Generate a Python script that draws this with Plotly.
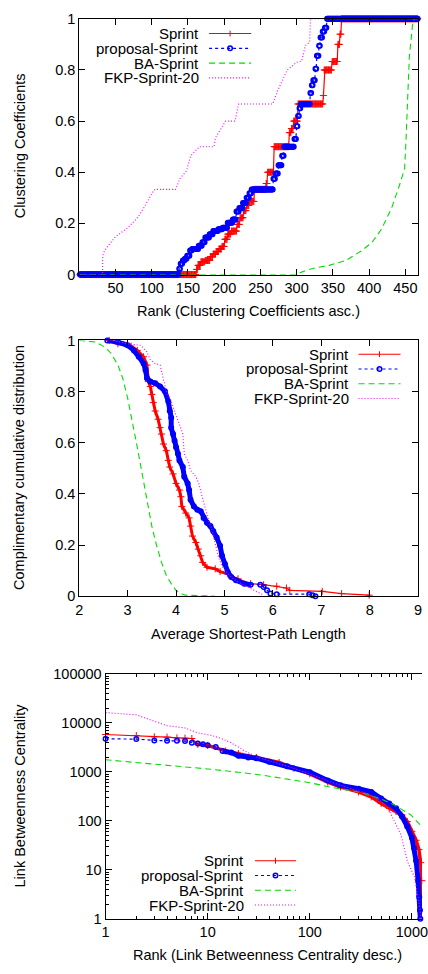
import numpy as np
import plotly.graph_objects as go

# ---------------- Panel 1: clustering coefficients (sorted asc., run-length encoded)
N_NODES = 467
cc_sprint_vals = [0.0, 0.02, 0.036, 0.05, 0.055, 0.07, 0.08, 0.09, 0.1, 0.11, 0.138, 0.158, 0.17, 0.196,
                  0.222, 0.25, 0.27, 0.286, 0.333, 0.356, 0.4, 0.5, 0.555, 0.571, 0.6, 0.667, 0.7, 0.8,
                  0.833, 0.9, 0.94, 1.0]
cc_sprint_counts = [161, 2, 4, 6, 7, 4, 4, 4, 4, 4, 4, 5, 8, 4, 5, 4, 4, 7, 16, 2, 9, 21, 3, 3, 6, 35, 1,
                    11, 8, 3, 2, 106]
cc_prop_vals = [0.0, 0.023, 0.042, 0.055, 0.062, 0.074, 0.094, 0.1, 0.113, 0.126, 0.145, 0.158, 0.17,
                0.177, 0.183, 0.203, 0.215, 0.247, 0.26, 0.28, 0.3, 0.318, 0.333, 0.375, 0.395, 0.427,
                0.465, 0.5, 0.53, 0.58, 0.62, 0.65, 0.667, 0.71, 0.74, 0.76, 0.805, 0.856, 0.895, 0.927,
                0.95, 0.965, 1.0]
cc_prop_counts = [137, 2, 3, 3, 3, 4, 3, 9, 5, 4, 6, 5, 7, 6, 7, 7, 5, 4, 5, 5, 4, 3, 30, 3, 4, 5, 3,
                  14, 3, 2, 2, 2, 13, 2, 2, 3, 2, 3, 2, 3, 3, 3, 126]
cc_ba_rank = [1, 298, 314, 327, 345, 368, 390, 404, 417, 431, 442, 449, 451, 453, 455.5, 460, 462, 467]
cc_ba_val = [0, 0, 0.017, 0.027, 0.036, 0.055, 0.094, 0.126, 0.177, 0.26, 0.35, 0.414, 0.53, 0.683,
             0.85, 0.978, 1.0, 1.0]
cc_fkp_rank = [1, 32, 32.5, 35, 49, 67, 80, 89, 103, 106, 133, 139, 148, 154, 166, 186, 188, 202, 215,
               220, 267, 274, 287, 300, 307, 312, 318, 319, 467]
cc_fkp_val = [0, 0, 0.074, 0.094, 0.145, 0.183, 0.22, 0.26, 0.33, 0.333, 0.333, 0.375, 0.405, 0.465,
              0.5, 0.5, 0.535, 0.6, 0.6, 0.667, 0.667, 0.72, 0.8, 0.83, 0.835, 0.895, 0.91, 1.0, 1.0]

# ---------------- Panel 2: CCDF of average shortest-path length
asp_sprint_x = [2.62, 2.80, 3.07, 3.20, 3.33, 3.40, 3.43, 3.47, 3.50, 3.53, 3.57, 3.63, 3.67, 3.70,
                3.74, 3.80, 3.84, 3.87, 3.94, 4.00, 4.07, 4.10, 4.12, 4.20, 4.27, 4.30, 4.34, 4.41,
                4.46, 4.51, 4.55, 4.64, 4.81, 4.91, 5.07, 5.28, 5.54, 5.81, 6.08, 6.28, 6.35, 7.02,
                7.42, 7.99]
asp_sprint_y = [1.0, 0.987, 0.978, 0.961, 0.936, 0.904, 0.839, 0.820, 0.789, 0.757, 0.724, 0.692,
                0.659, 0.634, 0.595, 0.569, 0.531, 0.505, 0.478, 0.441, 0.415, 0.389, 0.351, 0.325,
                0.306, 0.274, 0.235, 0.210, 0.184, 0.158, 0.132, 0.113, 0.107, 0.096, 0.087, 0.068,
                0.049, 0.045, 0.039, 0.032, 0.023, 0.019, 0.010, 0.004]
asp_prop_x = [2.58, 2.80, 3.00, 3.13, 3.23, 3.33, 3.37, 3.40, 3.47, 3.57, 3.67, 3.77, 3.84, 3.87,
              3.90, 3.90, 3.94, 3.97, 4.00, 4.04, 4.07, 4.14, 4.17, 4.24, 4.27, 4.30, 4.37, 4.44,
              4.51, 4.57, 4.64, 4.71, 4.77, 4.84, 4.91, 4.95, 5.01, 5.07, 5.14, 5.24, 5.41, 5.54,
              5.74, 5.81, 5.88, 5.95, 6.08, 6.75, 6.82, 6.88]
asp_prop_y = [1.0, 0.994, 0.981, 0.961, 0.936, 0.910, 0.884, 0.852, 0.839, 0.833, 0.820, 0.801,
              0.762, 0.724, 0.698, 0.659, 0.634, 0.608, 0.582, 0.557, 0.531, 0.505, 0.467, 0.441,
              0.415, 0.377, 0.351, 0.338, 0.332, 0.306, 0.287, 0.274, 0.254, 0.229, 0.197, 0.158,
              0.126, 0.094, 0.075, 0.062, 0.049, 0.045, 0.045, 0.036, 0.023, 0.010, 0.008, 0.008,
              0.004, 0.0]
asp_ba_x = [2.0, 2.33, 2.53, 2.66, 2.80, 2.90, 3.00, 3.10, 3.20, 3.30, 3.40, 3.50, 3.60, 3.70, 3.80,
            3.90, 4.00, 4.10, 4.20, 4.81]
asp_ba_y = [1.0, 0.994, 0.974, 0.949, 0.904, 0.852, 0.775, 0.685, 0.582, 0.479, 0.377, 0.274, 0.197,
            0.132, 0.081, 0.049, 0.023, 0.010, 0.004, 0.0]
asp_fkp_x = [2.70, 3.00, 3.27, 3.40, 3.47, 3.57, 3.67, 3.74, 3.80, 3.87, 3.94, 4.00, 4.07, 4.14, 4.17,
             4.24, 4.30, 4.41, 4.47, 4.54, 4.61, 4.67, 4.74, 4.81, 4.87, 4.94, 5.04, 5.14, 5.28, 5.48,
             5.68, 5.81]
asp_fkp_y = [1.0, 0.987, 0.981, 0.955, 0.923, 0.910, 0.904, 0.852, 0.801, 0.775, 0.736, 0.711, 0.672,
             0.634, 0.557, 0.531, 0.492, 0.467, 0.441, 0.389, 0.338, 0.299, 0.261, 0.210, 0.158,
             0.120, 0.094, 0.075, 0.055, 0.036, 0.017, 0.004]

# ---------------- Panel 3: link betweenness centrality (desc.)
lbc_sprint_rank = [1, 2, 3, 4, 5, 6, 7, 8, 10, 15, 20, 30, 50, 70, 100, 150, 200, 300, 400, 500, 600,
                   700, 800, 900, 1000, 1100, 1170, 1220, 1250, 1270]
lbc_sprint_val = [5780, 5520, 5190, 5110, 4950, 4880, 4800, 3640, 3475, 2673, 2362, 1963, 1560, 1181,
                  908, 618, 491, 389, 309, 227, 180, 154, 132, 97, 61, 40, 26, 14, 6, 1.5]
lbc_prop_rank = [1, 2, 3, 4, 5, 6, 7, 8, 9, 10, 12, 14, 17, 20, 25, 30, 40, 60, 100, 150, 200, 300,
                 400, 500, 600, 700, 800, 900, 1000, 1050, 1100, 1150, 1180, 1200, 1210]
lbc_prop_val = [4730, 4660, 4380, 4310, 4310, 4250, 3930, 3810, 3640, 3475, 3215, 2673, 2475, 2123,
                1963, 1905, 1608, 1295, 982, 668, 530, 454, 389, 286, 227, 180, 122, 77, 45, 28, 15.3,
                6.1, 2.8, 1.5, 1.0]
lbc_ba_rank = [1, 2, 4, 10, 20, 36, 100, 156, 302, 505, 676, 977, 1260]
lbc_ba_val = [1763, 1560, 1378, 1146, 982, 841, 601, 491, 389, 277, 210, 132, 75]
lbc_fkp_rank = [1, 2, 4, 6, 8, 11, 13, 17, 23, 31, 45, 65, 100, 156, 225, 325, 467, 584, 675, 781, 903,
                1060, 1177, 1240]
lbc_fkp_val = [16220, 14560, 8750, 7870, 6240, 5520, 4950, 3930, 2673, 1963, 1560, 1237, 908, 634, 491,
               389, 286, 180, 97, 52.5, 15, 7.1, 2.1, 1.0]

legend_labels = ["Sprint", "proposal-Sprint", "BA-Sprint", "FKP-Sprint-20"]

# ---------------- styles
FONT = "Liberation Sans"
W, H = 428, 974
C_RED, C_BLUE, C_GREEN, C_MAG = "#ff0000", "#0000ff", "#00dd00", "#ff00ff"
DASH_BLUE, DASH_GREEN, DASH_MAG = "3px,3px", "6px,4px", "1px,2px"


def fx(p):
    return p / W


def fy(p):
    return 1 - p / H


fig = go.Figure()


def red_trace(x, y, xa, ya):
    return go.Scatter(x=x, y=y, xaxis=xa, yaxis=ya, mode="lines+markers", cliponaxis=False,
                      line=dict(color=C_RED, width=1.2),
                      marker=dict(symbol="cross-thin", size=5, color=C_RED, line=dict(color=C_RED, width=1)))


def blue_trace(x, y, xa, ya):
    return go.Scatter(x=x, y=y, xaxis=xa, yaxis=ya, mode="lines+markers", cliponaxis=False,
                      line=dict(color=C_BLUE, width=1.2, dash=DASH_BLUE),
                      marker=dict(symbol="circle-open", size=4.5, color=C_BLUE,
                                  line=dict(color=C_BLUE, width=1.5)))


def band(x, y, xa, ya, col, w):
    return go.Scatter(x=x, y=y, xaxis=xa, yaxis=ya, mode="lines", line=dict(color=col, width=w),
                      hoverinfo="skip")


def plain(x, y, xa, ya, col, dash):
    return go.Scatter(x=x, y=y, xaxis=xa, yaxis=ya, mode="lines", line=dict(color=col, width=1.1, dash=dash))


# Panel 1
rank = np.arange(1, N_NODES + 1)
fig.add_trace(red_trace(rank, np.repeat(cc_sprint_vals, cc_sprint_counts), "x", "y"))
fig.add_trace(blue_trace(rank, np.repeat(cc_prop_vals, cc_prop_counts), "x", "y"))
fig.add_trace(plain(cc_ba_rank, cc_ba_val, "x", "y", C_GREEN, DASH_GREEN))
fig.add_trace(plain(cc_fkp_rank, cc_fkp_val, "x", "y", C_MAG, DASH_MAG))

# Panel 2
fig.add_trace(band(asp_sprint_x[:35], asp_sprint_y[:35], "x2", "y2", C_RED, 3))
fig.add_trace(red_trace(asp_sprint_x, asp_sprint_y, "x2", "y2"))
fig.add_trace(band(asp_prop_x[:42], asp_prop_y[:42], "x2", "y2", C_BLUE, 5))
fig.add_trace(blue_trace(asp_prop_x, asp_prop_y, "x2", "y2"))
fig.add_trace(plain(asp_ba_x, asp_ba_y, "x2", "y2", C_GREEN, DASH_GREEN))
fig.add_trace(plain(asp_fkp_x, asp_fkp_y, "x2", "y2", C_MAG, DASH_MAG))

# Panel 3
fig.add_trace(band(lbc_sprint_rank[7:], lbc_sprint_val[7:], "x3", "y3", C_RED, 3.5))
fig.add_trace(red_trace(lbc_sprint_rank, lbc_sprint_val, "x3", "y3"))
fig.add_trace(band(lbc_prop_rank[11:], lbc_prop_val[11:], "x3", "y3", C_BLUE, 5))
fig.add_trace(blue_trace(lbc_prop_rank, lbc_prop_val, "x3", "y3"))
fig.add_trace(plain(lbc_ba_rank, lbc_ba_val, "x3", "y3", C_GREEN, DASH_GREEN))
fig.add_trace(plain(lbc_fkp_rank, lbc_fkp_val, "x3", "y3", C_MAG, DASH_MAG))

tickfont = dict(family=FONT, size=14.5, color="black")
common = dict(showline=True, linecolor="black", linewidth=1, ticks="inside", ticklen=6,
              tickcolor="black", tickwidth=1, showgrid=False, zeroline=False, tickfont=tickfont,
              ticklabeloverflow="allow")

dom_x12 = [fx(77), fx(424)]
minor_log_x = [m * 10 ** d for d in range(0, 4) for m in range(2, 10)]
minor_log_y = [m * 10 ** d for d in range(0, 5) for m in range(2, 10)]

fig.update_layout(
    width=W, height=H, autosize=False, margin=dict(l=0, r=0, t=0, b=0),
    paper_bgcolor="white", plot_bgcolor="white", showlegend=False,
    xaxis=dict(common, domain=dom_x12, anchor="y", range=[0, 467.6], mirror="allticks",
               tickvals=[50, 100, 150, 200, 250, 300, 350, 400, 450]),
    yaxis=dict(common, domain=[fy(271), fy(11)], anchor="x", range=[0, 1], mirror="allticks",
               tickvals=[0, 0.2, 0.4, 0.6, 0.8, 1]),
    xaxis2=dict(common, domain=dom_x12, anchor="y2", range=[2, 9], mirror="allticks",
                tickvals=[2, 3, 4, 5, 6, 7, 8, 9]),
    yaxis2=dict(common, domain=[fy(598), fy(338)], anchor="x2", range=[0, 1], mirror="allticks",
                tickvals=[0, 0.2, 0.4, 0.6, 0.8, 1]),
    xaxis3=dict(common, type="log", domain=[fx(104), 1.0], anchor="y3", range=[0, 3.099],
                mirror="allticks", tickvals=[1, 10, 100, 1000], ticktext=["1", "10", "100", "1000"],
                minor=dict(ticks="inside", ticklen=3, tickcolor="black", tickvals=minor_log_x)),
    yaxis3=dict(common, type="log", domain=[fy(926), fy(677)], anchor="x3", range=[0, 5],
                mirror=False, tickvals=[1, 10, 100, 1000, 10000, 100000],
                ticktext=["1", "10", "100", "1000", "10000", "100000"],
                minor=dict(ticks="inside", ticklen=3, tickcolor="black", tickvals=minor_log_y)),
)

annotations = []
shapes = []
tfont = dict(family=FONT, size=14.5, color="black")
lfont = dict(family=FONT, size=15, color="black")


def title(text, x, y, angle=0):
    annotations.append(dict(x=fx(x), y=fy(y), xref="paper", yref="paper", text=text, showarrow=False,
                            xanchor="center", yanchor="middle", textangle=angle, font=tfont))


title("Rank (Clustering Coefficients asc.)", 250, 308)
title("Clustering Coefficients", 16, 140, -90)
title("Average Shortest-Path Length", 250, 636)
title("Complimentary cumulative distribution", 16, 467, -90)
title("Rank (Link Betweenness Centrality desc.)", 270, 963)
title("Link Betweenness Centrality", 16, 801, -90)


def add_legend(x_text, x0, x1, ys):
    styles = [(C_RED, "solid"), (C_BLUE, DASH_BLUE), (C_GREEN, DASH_GREEN), (C_MAG, DASH_MAG)]
    xc = (x0 + x1) / 2
    for lab, (col, dash), y in zip(legend_labels, styles, ys):
        annotations.append(dict(x=fx(x_text), y=fy(y), xref="paper", yref="paper", text=lab,
                                showarrow=False, xanchor="right", yanchor="middle", font=lfont))
        shapes.append(dict(type="line", xref="paper", yref="paper", x0=fx(x0), x1=fx(x1), y0=fy(y),
                           y1=fy(y), line=dict(color=col, width=1.1, dash=dash)))
    yS, yP = ys[0], ys[1]
    shapes.append(dict(type="line", xref="paper", yref="paper", x0=fx(xc), x1=fx(xc), y0=fy(yS - 3),
                       y1=fy(yS + 3), line=dict(color=C_RED, width=1)))
    shapes.append(dict(type="circle", xref="paper", yref="paper", x0=fx(xc - 2.3), x1=fx(xc + 2.3),
                       y0=fy(yP + 2.3), y1=fy(yP - 2.3), line=dict(color=C_BLUE, width=1.5)))


add_legend(202, 210, 253, [26, 41, 56, 71])
add_legend(355, 363, 406, [352, 367, 382, 397])
add_legend(248, 257, 299, [867, 882, 897, 912])

fig.update_layout(annotations=annotations, shapes=shapes)

clip_js = (
    "document.documentElement.style.overflow='hidden';"
    "document.body.style.margin='0';document.body.style.overflow='hidden';"
)
fig.write_html("out.html",
               config={"responsive": False, "displayModeBar": False, "staticPlot": True},
               post_script=clip_js)
